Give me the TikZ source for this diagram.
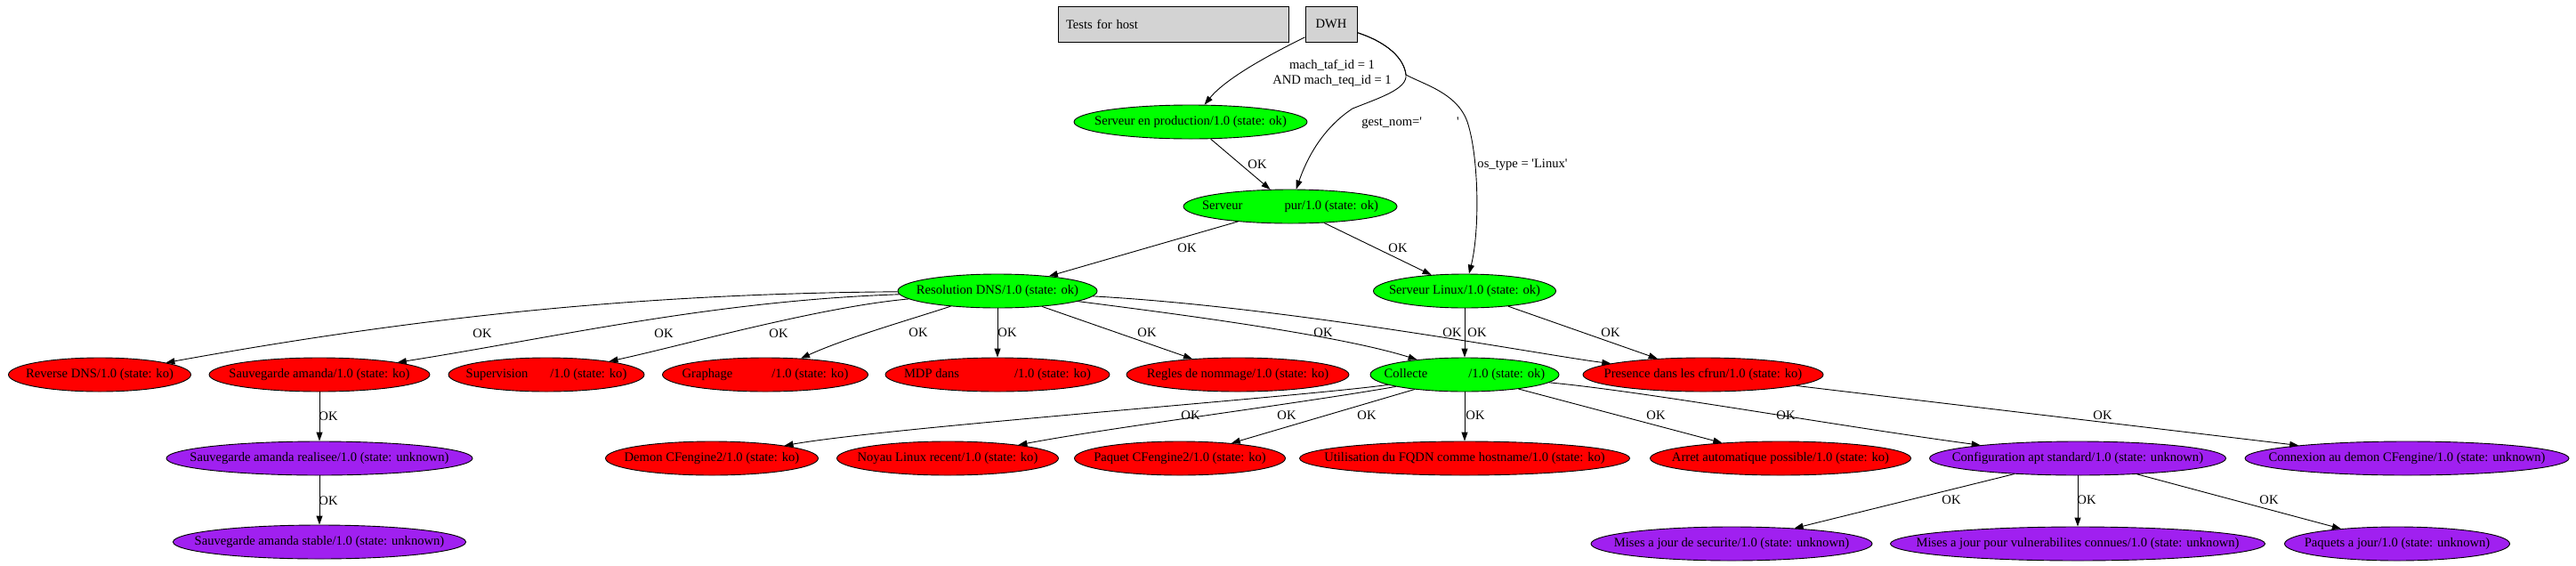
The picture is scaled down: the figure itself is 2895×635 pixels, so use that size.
\documentclass[tikz,border=0pt]{standalone}
\usepackage{fontspec}
\setmainfont{Liberation Serif}
\usetikzlibrary{shapes.geometric,arrows.meta}
\definecolor{gvgreen}{HTML}{00FF00}
\definecolor{gvred}{HTML}{FF0000}
\definecolor{gvpurple}{HTML}{A020F0}
\definecolor{gvgray}{HTML}{D3D3D3}
\newcommand\zb[1]{\makebox[0pt]{#1}}
\newcommand\qq{\textquotesingle}
\begin{document}
\begin{tikzpicture}[x=1pt,y=1pt,
  base/.style={font=\fontsize{14.6}{17}\selectfont},
  ell/.style={base, ellipse, draw=black, line width=0.9pt, inner sep=0pt, minimum height=38pt},
  okn/.style={ell, fill=gvgreen},
  kon/.style={ell, fill=gvred},
  unk/.style={ell, fill=gvpurple},
  hbox/.style={base, rectangle, draw=black, line width=0.9pt, fill=gvgray, minimum height=40pt},
  lbl/.style={base, inner sep=0pt},
  conn/.style={line width=0.9pt, -{Triangle[length=10pt,width=7pt]}}
]
\useasboundingbox (0,0) rectangle (2895,-635);

% header boxes
\node[hbox, text width=241pt, inner xsep=9pt, align=left] (tests) at (1318.5,-27) {Tests for host};
\node[hbox, minimum width=58pt] (dwh) at (1496,-27) {DWH};

% nodes
\node[okn, minimum width=262pt] (prod) at (1338,-137) {\zb{Serveur en production/1.0 (state: ok)}};
\node[okn, minimum width=240pt] (pur) at (1450,-232) {\zb{Serveur\hspace{47pt}pur/1.0 (state: ok)}};
\node[okn, minimum width=224pt] (dns) at (1121,-327) {\zb{Resolution DNS/1.0 (state: ok)}};
\node[okn, minimum width=205pt] (linux) at (1646,-327) {\zb{Serveur Linux/1.0 (state: ok)}};

\node[kon, minimum width=205pt] (rev) at (112,-421) {\zb{Reverse DNS/1.0 (state: ko)}};
\node[kon, minimum width=248pt] (sauv) at (359,-421) {\zb{Sauvegarde amanda/1.0 (state: ko)}};
\node[kon, minimum width=220pt] (sup) at (614,-421) {\zb{Supervision\hspace{25pt}/1.0 (state: ko)}};
\node[kon, minimum width=231pt] (graph) at (860,-421) {\zb{Graphage\hspace{44pt}/1.0 (state: ko)}};
\node[kon, minimum width=252pt] (mdp) at (1121,-421) {\zb{MDP dans\hspace{62pt}/1.0 (state: ko)}};
\node[kon, minimum width=250pt] (regles) at (1391,-421) {\zb{Regles de nommage/1.0 (state: ko)}};
\node[okn, minimum width=212pt] (coll) at (1646,-421) {\zb{Collecte\hspace{46pt}/1.0 (state: ok)}};
\node[kon, minimum width=270pt] (pres) at (1914,-421) {\zb{Presence dans les cfrun/1.0 (state: ko)}};

\node[unk, minimum width=344pt] (real) at (359,-515) {\zb{Sauvegarde amanda realisee/1.0 (state: unknown)}};
\node[kon, minimum width=239pt] (demon) at (800,-515) {\zb{Demon CFengine2/1.0 (state: ko)}};
\node[kon, minimum width=249pt] (noyau) at (1065,-515) {\zb{Noyau Linux recent/1.0 (state: ko)}};
\node[kon, minimum width=237pt] (paquet) at (1326,-515) {\zb{Paquet CFengine2/1.0 (state: ko)}};
\node[kon, minimum width=371pt] (fqdn) at (1646,-515) {\zb{Utilisation du FQDN comme hostname/1.0 (state: ko)}};
\node[kon, minimum width=293pt] (arret) at (2001,-515) {\zb{Arret automatique possible/1.0 (state: ko)}};
\node[unk, minimum width=333pt] (apt) at (2335,-515) {\zb{Configuration apt standard/1.0 (state: unknown)}};
\node[unk, minimum width=364pt] (connex) at (2705,-515) {\zb{Connexion au demon CFengine/1.0 (state: unknown)}};

\node[unk, minimum width=329pt] (stable) at (359,-609) {\zb{Sauvegarde amanda stable/1.0 (state: unknown)}};
\node[unk, minimum width=316pt] (secu) at (1946,-611) {\zb{Mises a jour de securite/1.0 (state: unknown)}};
\node[unk, minimum width=421pt] (vuln) at (2335,-611) {\zb{Mises a jour pour vulnerabilites connues/1.0 (state: unknown)}};
\node[unk, minimum width=253pt] (pja) at (2694,-611) {\zb{Paquets a jour/1.0 (state: unknown)}};

% edges from DWH
\draw[conn] (dwh) .. controls (1440,-55) and (1380,-85) .. (prod);
\draw[conn] (dwh) .. controls (1560,-48) and (1578,-66) .. (1580,-84)
  .. controls (1582,-100) and (1550,-110) .. (1520,-122)
  .. controls (1485,-145) and (1468,-180) .. (pur);
\draw[conn] (dwh) .. controls (1560,-48) and (1578,-66) .. (1580,-84)
  .. controls (1600,-95) and (1640,-105) .. (1650,-140)
  .. controls (1662,-180) and (1663,-260) .. (linux);
\node[lbl, align=center] (lmach) at (1497,-82) {mach\_taf\_id = 1\\AND mach\_teq\_id = 1};
\node[lbl] (lgest) at (1585,-138) {gest\_nom=\qq\hspace{39pt}\qq};
\node[lbl] (los) at (1711,-185) {os\_type = \qq Linux\qq};

% upper edges
\draw[conn] (prod) -- (pur);
\node[lbl] (l1) at (1413,-185) {OK};
\draw[conn] (pur) -- (dns);
\node[lbl] (l2) at (1334,-279) {OK};
\draw[conn] (pur) -- (linux);
\node[lbl] (l3) at (1571,-279) {OK};

% from Resolution DNS
\draw[conn] (dns) .. controls (700,-330) and (450,-360) .. (rev);
\node[lbl] (l4) at (542,-375) {OK};
\draw[conn] (dns) .. controls (800,-338) and (620,-380) .. (sauv);
\node[lbl] (l5) at (746,-375) {OK};
\draw[conn] (dns) .. controls (920,-345) and (760,-390) .. (sup);
\node[lbl] (l6) at (875,-375) {OK};
\draw[conn] (dns) .. controls (1020,-360) and (950,-380) .. (graph);
\node[lbl] (l7) at (1032,-374) {OK};
\draw[conn] (dns) -- (mdp);
\node[lbl] (l8) at (1132,-374) {OK};
\draw[conn] (dns) -- (regles);
\node[lbl] (l9) at (1289,-374) {OK};
\draw[conn] (dns) .. controls (1300,-350) and (1500,-375) .. (coll);
\node[lbl] (l10) at (1487,-374) {OK};
\draw[conn] (dns) .. controls (1450,-345) and (1740,-400) .. (pres);
\node[lbl] (l11) at (1632,-374) {OK};
\draw[conn] (linux) -- (coll);
\node[lbl] (l12) at (1660,-374) {OK};
\draw[conn] (linux) -- (pres);
\node[lbl] (l13) at (1810,-374) {OK};

% from Sauvegarde amanda
\draw[conn] (sauv) -- (real);
\node[lbl] (l14) at (369,-468) {OK};
\draw[conn] (real) -- (stable);
\node[lbl] (l15) at (369,-563) {OK};

% from Collecte
\draw[conn] (coll) .. controls (1450,-447) and (1000,-480) .. (demon);
\node[lbl] (l16) at (1338,-467) {OK};
\draw[conn] (coll) .. controls (1450,-455) and (1250,-480) .. (noyau);
\node[lbl] (l17) at (1446,-467) {OK};
\draw[conn] (coll) -- (paquet);
\node[lbl] (l18) at (1536,-467) {OK};
\draw[conn] (coll) -- (fqdn);
\node[lbl] (l19) at (1658,-467) {OK};
\draw[conn] (coll) -- (arret);
\node[lbl] (l20) at (1861,-467) {OK};
\draw[conn] (coll) .. controls (1850,-440) and (2060,-478) .. (apt);
\node[lbl] (l21) at (2007,-467) {OK};
\draw[conn] (pres) -- (connex);
\node[lbl] (l22) at (2363,-467) {OK};

% from Configuration apt
\draw[conn] (apt) -- (secu);
\node[lbl] (l23) at (2193,-562) {OK};
\draw[conn] (apt) -- (vuln);
\node[lbl] (l24) at (2345,-562) {OK};
\draw[conn] (apt) -- (pja);
\node[lbl] (l25) at (2550,-562) {OK};
\end{tikzpicture}
\end{document}
